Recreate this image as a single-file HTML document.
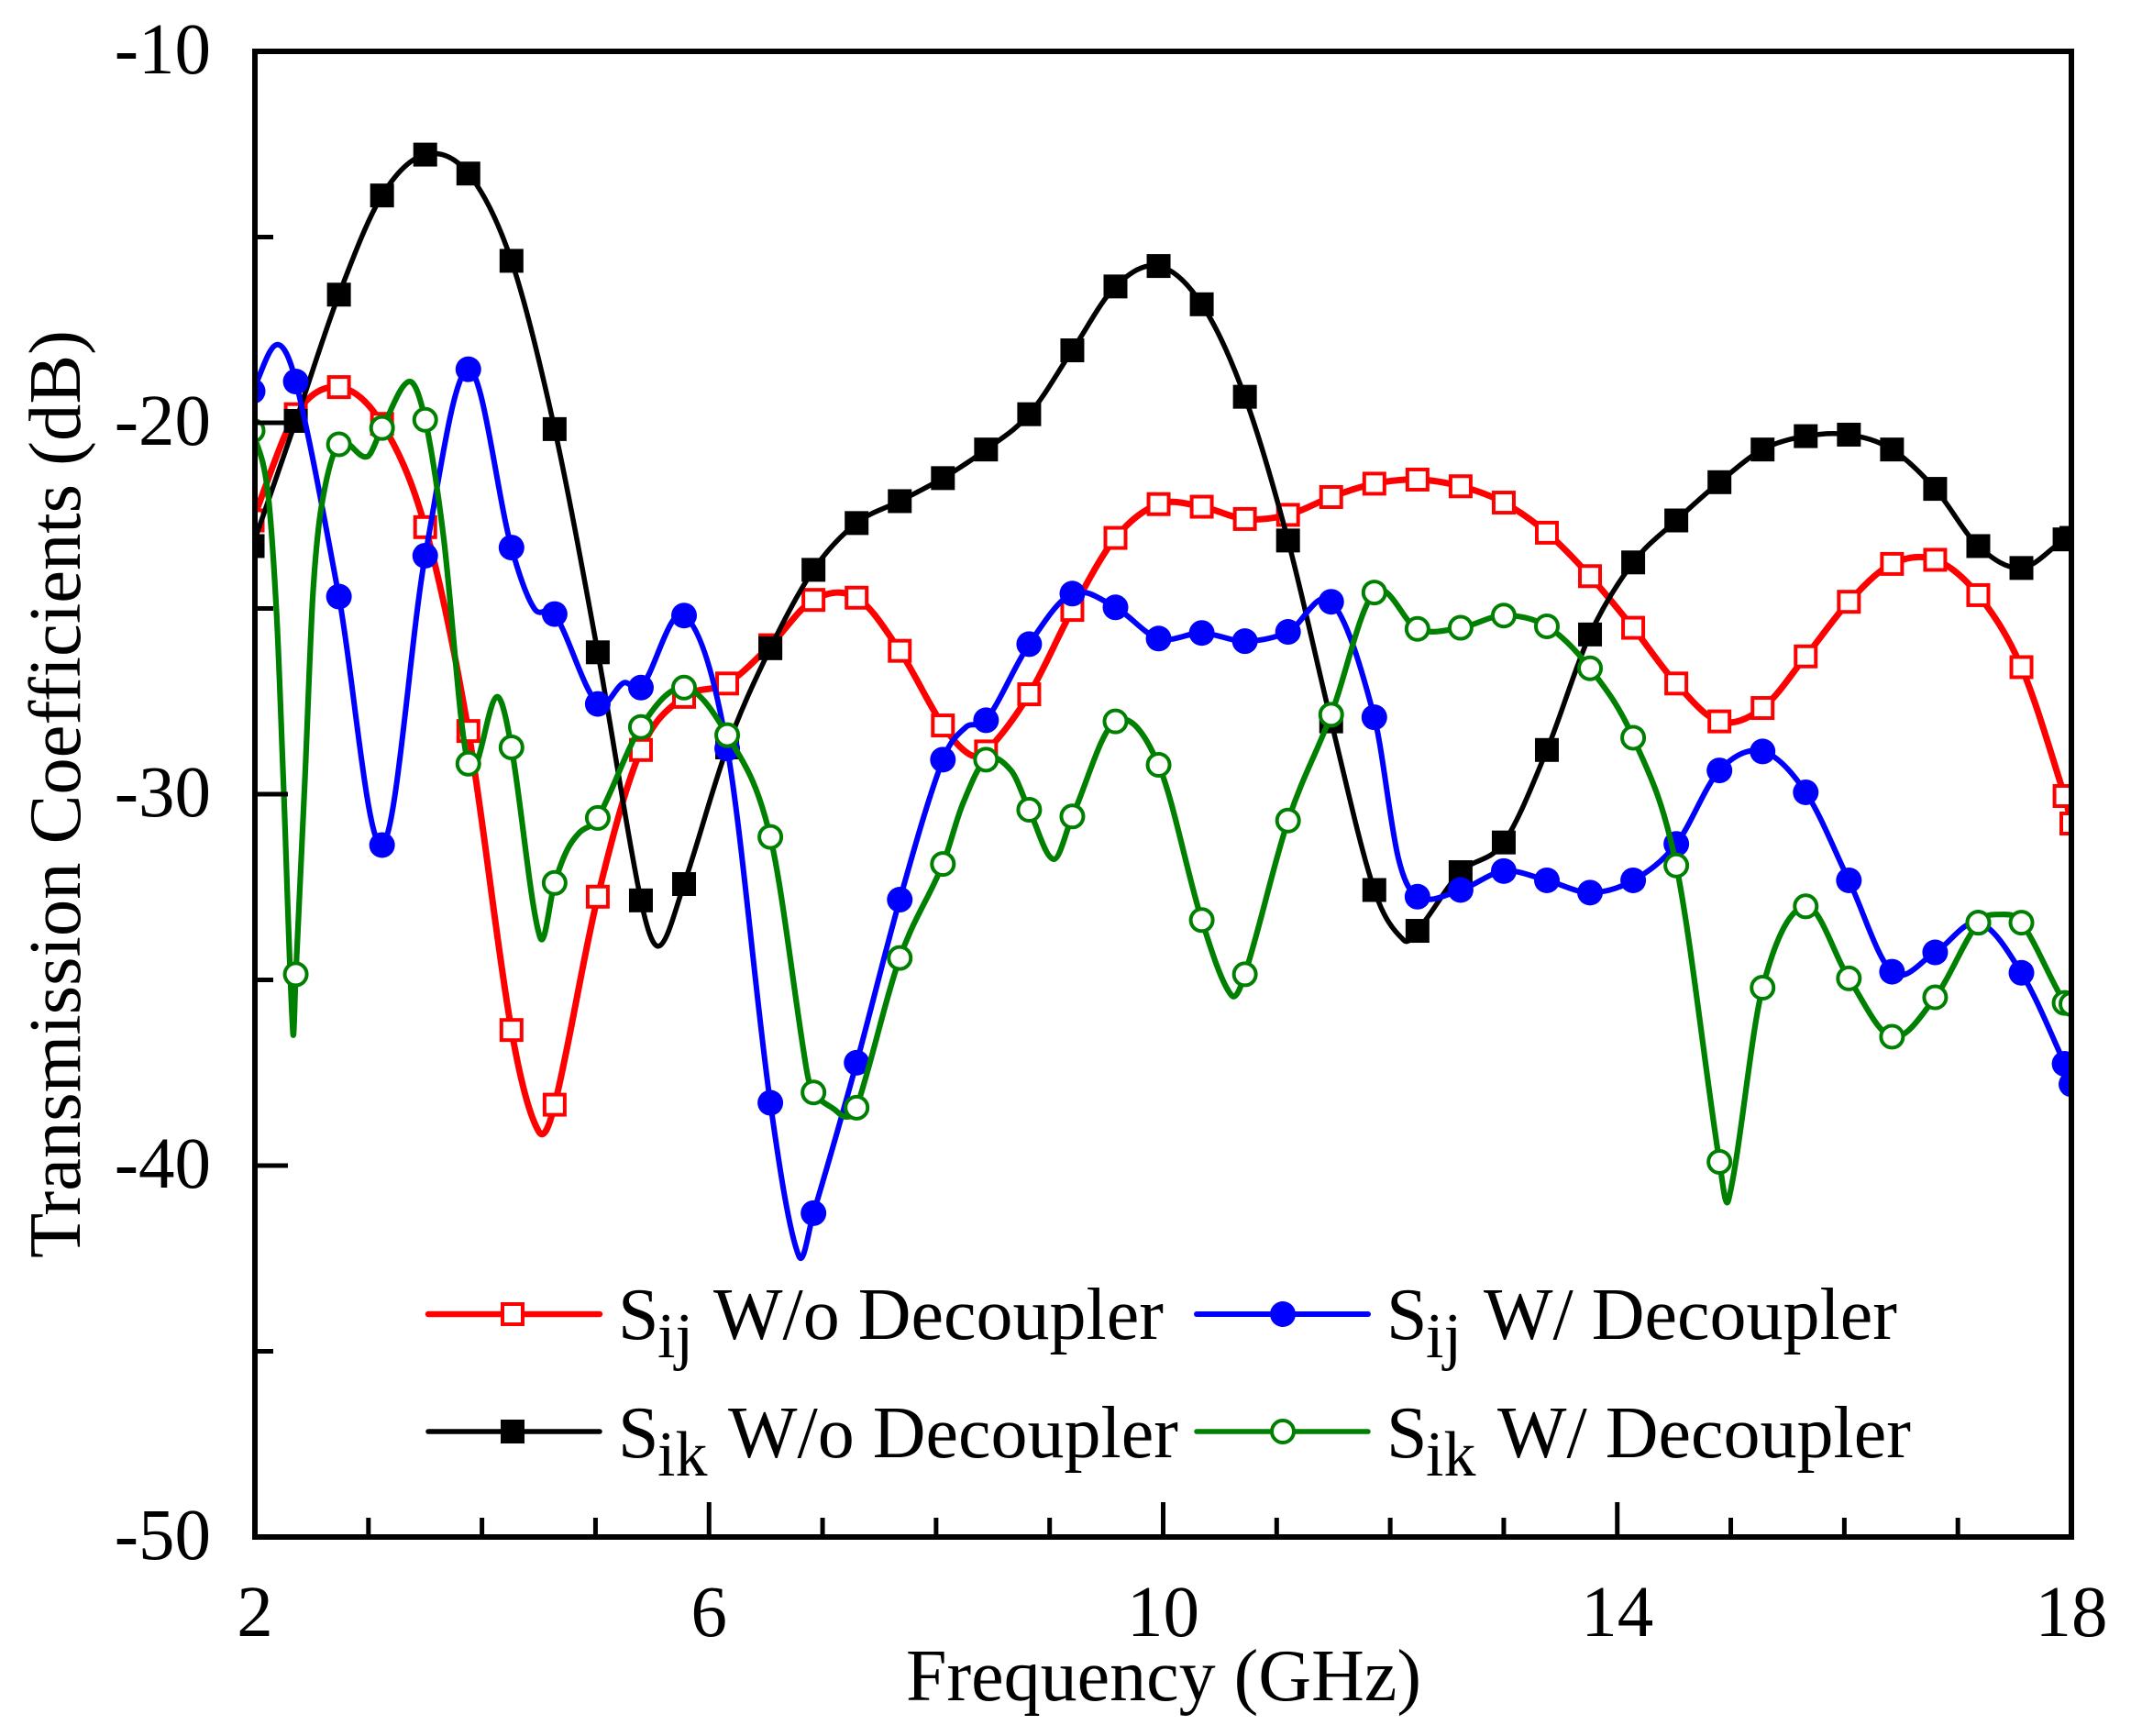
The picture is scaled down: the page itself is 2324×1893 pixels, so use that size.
<!DOCTYPE html>
<html lang="en">
<head>
<meta charset="utf-8">
<title>Transmission Coefficients vs Frequency</title>
<style>
  html, body { margin: 0; padding: 0; background: #fff; }
  svg { display: block; font-family: "Liberation Serif", serif; }
</style>
</head>
<body>
<svg id="chart" xmlns="http://www.w3.org/2000/svg" width="2324" height="1893" viewBox="0 0 2324 1893">
  <rect x="0" y="0" width="2324" height="1893" fill="#fff"/>
  <defs>
    <clipPath id="plot-clip"><rect x="278" y="56" width="1981" height="1620"/></clipPath>
  </defs>
  <g id="series-layer" clip-path="url(#plot-clip)"></g>
  <rect x="278" y="56" width="1981" height="1620" fill="none" stroke="#000" stroke-width="6"/>
  <g id="axis-layer"></g>
  <text transform="translate(87,1372) rotate(-90)" font-size="80.6" fill="#000">Transmission Coefficients (dB)</text>
  <text x="988" y="1854" font-size="80" fill="#000">Frequency (GHz)</text>

  <g>
    <g>
      <line x1="467" x2="654" y1="1433" y2="1433" stroke="#ff0000" stroke-width="6.5" stroke-linecap="round"/>
      <rect x="548" y="1422" width="22" height="22" fill="#fff" stroke="#ff0000" stroke-width="4"/>
      <text font-size="80" fill="#000" y="1460"><tspan x="674">S</tspan><tspan x="717" y="1480" font-size="70">ij</tspan><tspan x="778" y="1460">W/o Decoupler</tspan></text>
    </g>
    <g>
      <line x1="467" x2="654" y1="1561" y2="1561" stroke="#000" stroke-width="5.5" stroke-linecap="round"/>
      <rect x="546" y="1548" width="26" height="26" fill="#000"/>
      <text font-size="80" fill="#000" y="1589"><tspan x="674">S</tspan><tspan x="717" y="1609" font-size="70">ik</tspan><tspan x="794" y="1589">W/o Decoupler</tspan></text>
    </g>
    <g>
      <line x1="1305" x2="1492" y1="1433" y2="1433" stroke="#0000ff" stroke-width="6" stroke-linecap="round"/>
      <circle cx="1399" cy="1433" r="14" fill="#0000ff"/>
      <text font-size="80" fill="#000" y="1460"><tspan x="1512">S</tspan><tspan x="1555" y="1480" font-size="70">ij</tspan><tspan x="1618" y="1460">W/ Decoupler</tspan></text>
    </g>
    <g>
      <line x1="1305" x2="1492" y1="1561" y2="1561" stroke="#008000" stroke-width="5.5" stroke-linecap="round"/>
      <circle cx="1399" cy="1561" r="12" fill="#fff" stroke="#008000" stroke-width="4"/>
      <text font-size="80" fill="#000" y="1589"><tspan x="1512">S</tspan><tspan x="1555" y="1609" font-size="70">ik</tspan><tspan x="1633" y="1589">W/ Decoupler</tspan></text>
    </g>
  </g>
</svg>

<script>
// ---- Data ----
const markerFreq = [1.98,2.36,2.74,3.12,3.5,3.88,4.26,4.64,5.02,5.4,5.78,6.16,6.54,6.92,7.3,7.68,8.06,8.44,8.82,9.2,9.58,9.96,10.34,10.72,11.1,11.48,11.86,12.24,12.62,13,13.38,13.76,14.14,14.52,14.9,15.28,15.66,16.04,16.42,16.8,17.18,17.56,17.94,18];

const sijWithoutDb = [-22.63,-19.77,-19.04,-20.03,-22.81,-28.3,-36.35,-38.36,-32.76,-28.81,-27.38,-27.02,-25.99,-24.77,-24.71,-26.14,-28.15,-28.85,-27.31,-25.04,-23.1,-22.19,-22.26,-22.59,-22.48,-22,-21.64,-21.53,-21.71,-22.15,-22.96,-24.13,-25.52,-27.02,-28.04,-27.68,-26.29,-24.82,-23.8,-23.69,-24.64,-26.58,-30.05,-30.79];
const sijWithoutExtraFreq = [4.5,8.29];
const sijWithoutExtraDb = [-39.08,-28.92];

const sikWithoutDb = [-23.32,-19.95,-16.55,-13.88,-12.78,-13.29,-15.64,-20.17,-26.18,-32.86,-32.42,-28.74,-26.07,-23.96,-22.7,-22.11,-21.49,-20.72,-19.77,-18.05,-16.33,-15.78,-16.81,-19.3,-23.17,-28.04,-32.58,-33.68,-32.1,-31.3,-28.81,-25.7,-23.76,-22.63,-21.6,-20.72,-20.36,-20.32,-20.72,-21.78,-23.32,-23.91,-23.14,-23.1];
const sikWithoutExtraFreq = [5.56,12.12];
const sikWithoutExtraDb = [-34.09,-33.93];

const sijWithDb = [-19.15,-18.89,-24.68,-31.37,-23.58,-18.56,-23.36,-25.15,-27.57,-27.13,-25.19,-28.77,-38.31,-41.28,-37.23,-32.84,-29.07,-28.01,-25.96,-24.6,-24.97,-25.81,-25.66,-25.88,-25.63,-24.82,-27.93,-32.76,-32.58,-32.07,-32.32,-32.65,-32.32,-31.34,-29.36,-28.85,-29.95,-32.32,-34.78,-34.26,-33.46,-34.81,-37.26,-37.81];
const sijWithExtraFreq = [2.19,4.46,5.25,6.79,8.26,12.07];
const sijWithExtraDb = [-17.9,-25,-27,-42.43,-28.2,-31.7];

const sikWithDb = [-20.21,-34.85,-20.58,-20.14,-19.92,-29.18,-28.74,-32.39,-30.64,-28.19,-27.13,-28.41,-31.15,-38.03,-38.44,-34.41,-31.88,-29.07,-30.42,-30.6,-28.04,-29.21,-33.39,-34.85,-30.71,-27.86,-24.57,-25.55,-25.52,-25.19,-25.48,-26.61,-28.48,-31.92,-39.9,-35.21,-33.02,-34.96,-36.53,-35.47,-33.46,-33.46,-35.62,-35.65];
const sikWithExtraFreq = [2.11,2.19,2.25,2.335,2.44,2.51,2.59,2.99,3.36,3.66,4.13,4.51,4.75,4.86,6.86,7.105,7.21,8.235,8.66,9.035,10.6,14.98,17.37];
const sikWithExtraDb = [-21.78,-25.08,-29.62,-36.42,-29.62,-24.68,-22.19,-20.91,-18.89,-23.03,-27.38,-33.84,-31.5,-31.03,-37.43,-38.49,-38.69,-30.26,-29.36,-31.75,-35.41,-40.92,-33.24];

const xMajorTicks = [2,6,10,14,18];
const xMinorTicks = [3,4,5,7,8,9,11,12,13,15,16,17];
const yMajorTicks = [-10,-20,-30,-40,-50];
const yMinorTicks = [-15,-25,-35,-45];

// ---- Axis functions ----
const NS = 'http://www.w3.org/2000/svg';
const plotLeft = 278, plotRight = 2259, plotTop = 56, plotBottom = 1676;
function xScale(f) { return plotLeft + (f - 2) / 16 * (plotRight - plotLeft); }
function yScale(db) { return plotTop + (-10 - db) / 40 * (plotBottom - plotTop); }

function make(tag, attrs) {
  const node = document.createElementNS(NS, tag);
  for (const k in attrs) node.setAttribute(k, attrs[k]);
  return node;
}

// Hermite spline, monotonic in x, through the knots
function curvePath(pts) {
  const n = pts.length;
  const slope = [];
  for (let i = 0; i < n; i++) {
    const a = pts[Math.max(i - 1, 0)], b = pts[Math.min(i + 1, n - 1)];
    slope.push((b[1] - a[1]) / (b[0] - a[0]));
  }
  let d = 'M' + pts[0][0].toFixed(1) + ' ' + pts[0][1].toFixed(1);
  for (let i = 0; i < n - 1; i++) {
    const dx = (pts[i + 1][0] - pts[i][0]) / 3;
    d += ' C' + (pts[i][0] + dx).toFixed(1) + ' ' + (pts[i][1] + slope[i] * dx).toFixed(1) +
         ' ' + (pts[i + 1][0] - dx).toFixed(1) + ' ' + (pts[i + 1][1] - slope[i + 1] * dx).toFixed(1) +
         ' ' + pts[i + 1][0].toFixed(1) + ' ' + pts[i + 1][1].toFixed(1);
  }
  return d;
}

function knots(db, extraF, extraDb) {
  const all = markerFreq.map((f, i) => [f, db[i]]);
  extraF.forEach((f, i) => all.push([f, extraDb[i]]));
  all.sort((a, b) => a[0] - b[0]);
  return all.map(p => [xScale(p[0]), yScale(p[1])]);
}

// ---- Series ----
const seriesLayer = document.getElementById('series-layer');

function drawSeries(name, color, width, db, extraF, extraDb, drawMarker) {
  const group = make('g', {});
  
  
  const line = make('path', { d: curvePath(knots(db, extraF, extraDb)), fill: 'none', stroke: color, 'stroke-width': width, 'stroke-linejoin': 'round' });
  
  
  group.appendChild(line);
  markerFreq.forEach((f, i) => {
    const mark = drawMarker(xScale(f), yScale(db[i]));
    
    
    group.appendChild(mark);
  });
  seriesLayer.appendChild(group);
}

drawSeries('sij-without-decoupler', '#ff0000', 7, sijWithoutDb, sijWithoutExtraFreq, sijWithoutExtraDb,
  (x, y) => make('rect', { x: x - 11, y: y - 11, width: 22, height: 22, fill: '#fff', stroke: '#ff0000', 'stroke-width': 4 }));
drawSeries('sik-without-decoupler', '#000000', 5.5, sikWithoutDb, sikWithoutExtraFreq, sikWithoutExtraDb,
  (x, y) => make('rect', { x: x - 13, y: y - 13, width: 26, height: 26, fill: '#000' }));
drawSeries('sij-with-decoupler', '#0000ff', 6, sijWithDb, sijWithExtraFreq, sijWithExtraDb,
  (x, y) => make('circle', { cx: x, cy: y, r: 14, fill: '#0000ff' }));
drawSeries('sik-with-decoupler', '#008000', 6.2, sikWithDb, sikWithExtraFreq, sikWithExtraDb,
  (x, y) => make('circle', { cx: x, cy: y, r: 12, fill: '#fff', stroke: '#008000', 'stroke-width': 4 }));

// ---- Axes ----
const axisLayer = document.getElementById('axis-layer');

function addTick(x1, y1, x2, y2, name) {
  const tick = make('line', { x1: x1, y1: y1, x2: x2, y2: y2, stroke: '#000', 'stroke-width': 5 });
  
  
  axisLayer.appendChild(tick);
}
function addLabel(x, y, anchor, value, name) {
  const label = make('text', { x: x, y: y, 'text-anchor': anchor, 'font-size': 79, fill: '#000' });
  label.textContent = value;
  
  
  axisLayer.appendChild(label);
}

xMajorTicks.forEach(v => {
  if (v > 2 && v < 18) addTick(xScale(v), plotBottom, xScale(v), plotBottom - 38, 'x-major-tick');
  addLabel(xScale(v), 1784, 'middle', String(v), 'x-tick-label');
});
xMinorTicks.forEach(v => addTick(xScale(v), plotBottom, xScale(v), plotBottom - 21, 'x-minor-tick'));
yMajorTicks.forEach(v => {
  if (v > -50 && v < -10) addTick(plotLeft, yScale(v), plotLeft + 36, yScale(v), 'y-major-tick');
  addLabel(230, yScale(v) + 24, 'end', String(v), 'y-tick-label');
});
yMinorTicks.forEach(v => addTick(plotLeft, yScale(v), plotLeft + 20, yScale(v), 'y-minor-tick'));
</script>
</body>
</html>
